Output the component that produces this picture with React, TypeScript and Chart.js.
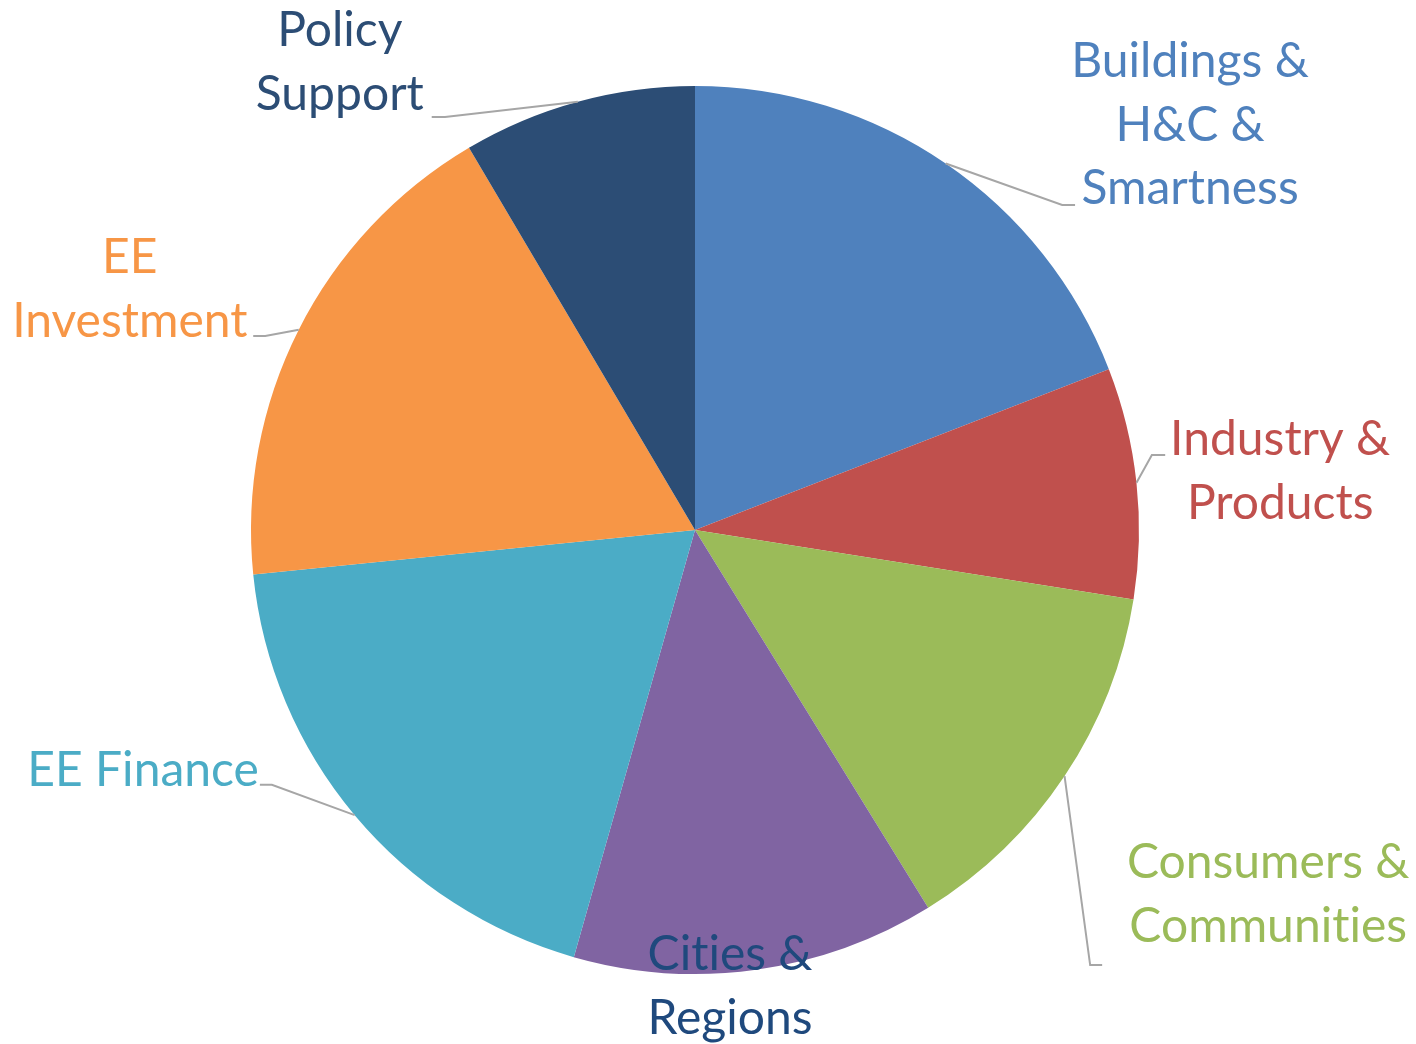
import React, { useEffect, useRef } from "react";
import { Chart, registerables } from "chart.js";

Chart.register(...registerables);

const categories = [
  ["Buildings &", "H&C &", "Smartness"],
  ["Industry &", "Products"],
  ["Consumers &", "Communities"],
  ["Cities &", "Regions"],
  ["EE Finance"],
  ["EE", "Investment"],
  ["Policy", "Support"],
];
const shares = [19.1, 8.4, 13.7, 13.2, 19.0, 18.1, 8.5];
const sliceColors = ["#4F81BD", "#C0504D", "#9BBB59", "#8064A2", "#4BACC6", "#F79646", "#2C4D75"];
const labelColors = ["#4F81BD", "#C0504D", "#9BBB59", "#1F497D", "#4BACC6", "#F79646", "#2C4D75"];

// label layout in units of the pie radius, relative to its centre
const labelLayout = [
  { c: [1.115, -0.912], elbow: [0.827, -0.732], end: [0.856, -0.732] },
  { c: [1.318, -0.131], elbow: [1.029, -0.169], end: [1.059, -0.169] },
  { c: [1.291, 0.822], elbow: [0.89, 0.98], end: [0.917, 0.98] },
  { c: [0.079, 1.029], elbow: null, end: null },
  { c: [-1.243, 0.541], elbow: [-0.953, 0.574], end: [-0.98, 0.574] },
  { c: [-1.273, -0.541], elbow: [-0.968, -0.437], end: [-0.995, -0.437] },
  { c: [-0.8, -1.052], elbow: [-0.563, -0.93], end: [-0.593, -0.93] },
];

// break the Lato "ti" ligature so glyphs look like the original
const noLig = (t: string) => t.replace(/t(?=i)/g, "t\u200C");

const labelPlugin = {
  id: "outsideLabels",
  afterDatasetsDraw(chart: any) {
    const ctx = chart.ctx;
    const meta = chart.getDatasetMeta(0);
    meta.data.forEach((arc: any, i: number) => {
      const { x, y, outerRadius: r, startAngle, endAngle } = arc.getProps(
        ["x", "y", "outerRadius", "startAngle", "endAngle"],
        true
      );
      const mid = (startAngle + endAngle) / 2;
      const lay = labelLayout[i];
      ctx.save();
      if (lay.elbow && lay.end) {
        ctx.strokeStyle = "#A6A6A6";
        ctx.lineWidth = 2;
        ctx.beginPath();
        ctx.moveTo(x + r * Math.cos(mid), y + r * Math.sin(mid));
        ctx.lineTo(x + r * lay.elbow[0], y + r * lay.elbow[1]);
        ctx.lineTo(x + r * lay.end[0], y + r * lay.end[1]);
        ctx.stroke();
      }
      const lines = categories[i];
      const lh = r * 0.144;
      const cx = x + r * lay.c[0];
      const cy = y + r * lay.c[1];
      ctx.fillStyle = labelColors[i];
      ctx.font = `${Math.round(r * 0.108)}px Lato, "Open Sans", sans-serif`;
      ctx.textAlign = "center";
      ctx.textBaseline = "middle";
      lines.forEach((t, k) => {
        ctx.fillText(noLig(t), cx, cy + (k - (lines.length - 1) / 2) * lh);
      });
      ctx.restore();
    });
  },
};

export default function App() {
  const ref = useRef<HTMLCanvasElement>(null);
  useEffect(() => {
    if (!ref.current) return;
    const chart = new Chart(ref.current, {
      type: "pie",
      data: {
        labels: categories.map((c) => c.join(" ")),
        datasets: [
          {
            data: shares,
            backgroundColor: sliceColors,
            borderWidth: 0,
          },
        ],
      },
      options: {
        animation: false,
        responsive: true,
        maintainAspectRatio: false,
        layout: { padding: { left: 251, right: 277, top: 86, bottom: 70 } },
        plugins: {
          legend: { display: false },
          tooltip: { enabled: false },
        },
      },
      plugins: [labelPlugin],
    });
    return () => chart.destroy();
  }, []);
  return (
    <div style={{ position: "fixed", left: 0, top: 0, width: 1416, height: 1044, background: "#fff" }}>
      <canvas ref={ref} />
    </div>
  );
}
